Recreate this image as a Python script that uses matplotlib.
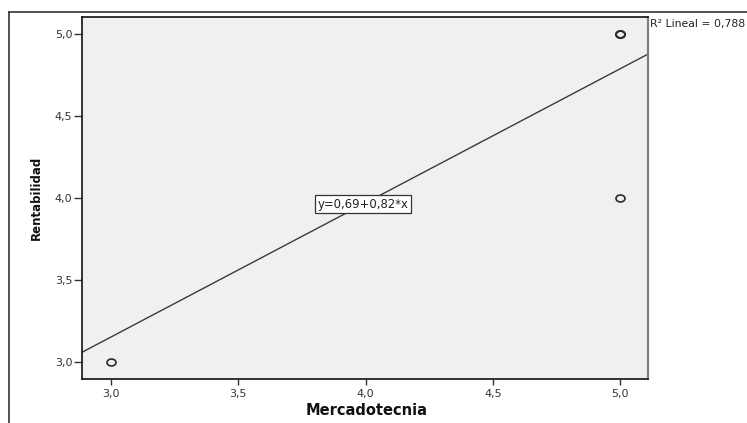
import matplotlib
matplotlib.use('Agg')
import matplotlib.pyplot as plt
from matplotlib.lines import Line2D
from matplotlib.path import Path
from matplotlib.transforms import Affine2D
import numpy as np

# Observed cases (Mercadotecnia, Rentabilidad); the (5,5) case is repeated
mercadotecnia = [3, 5, 5]
rentabilidad = [3, 4, 5]
repeticiones = [1, 1, 3]

# Linear fit reported by the chart
intercepto = 0.69
pendiente = 0.82
r2 = 0.788

x_ticks = [3.0, 3.5, 4.0, 4.5, 5.0]
x_ticklabels = ['3,0', '3,5', '4,0', '4,5', '5,0']
y_ticks = [3.0, 3.5, 4.0, 4.5, 5.0]
y_ticklabels = ['3,0', '3,5', '4,0', '4,5', '5,0']

fig = plt.figure(figsize=(7.47, 4.23), dpi=100)
ax = fig.add_axes([0.1098, 0.1040, 0.7577, 0.8558])
ax.set_facecolor('#f0f0f0')

xlim = (2.886, 5.11)
ylim = (2.893, 5.107)
ax.set_xlim(xlim)
ax.set_ylim(ylim)

# slightly wide hollow circle, as the chart is drawn
marcador = Path.unit_circle().transformed(Affine2D().scale(1.3, 1.0))

for x, y, n in zip(mercadotecnia, rentabilidad, repeticiones):
    for _ in range(n):
        ax.plot([x], [y], linestyle='none', marker=marcador, markersize=6.5,
                markerfacecolor='none', markeredgecolor='#2a2a2a',
                markeredgewidth=1.2, zorder=3)

# fit line across the whole plotting area
xs = np.array(xlim)
ax.plot(xs, intercepto + pendiente * xs, color='#3a3a3a', linewidth=1.0, zorder=2)

xe = 3.99
ax.text(xe, intercepto + pendiente * xe,
        'y=' + f'{intercepto:.2f}'.replace('.', ',') + '+' +
        f'{pendiente:.2f}'.replace('.', ',') + '*x',
        ha='center', va='center', fontsize=8.4, color='#222222', zorder=4,
        bbox=dict(boxstyle='square,pad=0.2', facecolor='white',
                  edgecolor='#333333', linewidth=0.9))

ax.set_xticks(x_ticks)
ax.set_xticklabels(x_ticklabels)
ax.set_yticks(y_ticks)
ax.set_yticklabels(y_ticklabels)
ax.tick_params(axis='x', length=4, width=1.0, pad=3, labelsize=8,
               labelcolor='#333333', color='#333333')
ax.tick_params(axis='y', length=5.5, width=1.0, pad=1.5, labelsize=8,
               labelcolor='#333333', color='#333333')

for side in ['left', 'bottom', 'top']:
    ax.spines[side].set_color('#111111')
    ax.spines[side].set_linewidth(1.2)
ax.spines['right'].set_color('#808080')
ax.spines['right'].set_linewidth(1.6)

ax.set_xlabel('Mercadotecnia', fontsize=10.5, fontweight='bold', color='#111111')
ax.xaxis.set_label_coords(0.502, -0.088)
ax.xaxis.label.set_va('center')

ax.set_ylabel('Rentabilidad', fontsize=8.5, fontweight='bold', color='#111111')
ax.yaxis.set_label_coords(-0.081, 0.501)
ax.yaxis.label.set_va('center')

fig.text(650 / 747, 1 - 19 / 423, 'R² Lineal = ' + f'{r2:.3f}'.replace('.', ','),
         ha='left', va='top', fontsize=7.8, color='#222222')

# outer frame of the chart area
fig.add_artist(Line2D([9 / 747, 9 / 747], [0, 1 - 12 / 423],
                      transform=fig.transFigure, color='#333333', linewidth=1.2))
fig.add_artist(Line2D([9 / 747, 1], [1 - 12 / 423, 1 - 12 / 423],
                      transform=fig.transFigure, color='#333333', linewidth=1.2))

fig.savefig('out.png', dpi=100)
